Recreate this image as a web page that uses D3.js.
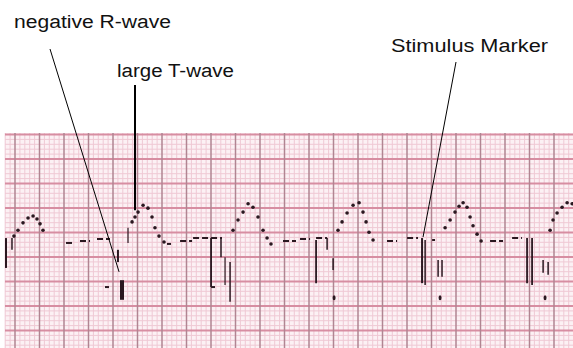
<!DOCTYPE html>
<html>
<head>
<meta charset="utf-8">
<script src="https://cdn.jsdelivr.net/npm/d3@7"></script>
<style>
  html, body { margin: 0; padding: 0; background: #ffffff; }
  svg { display: block; }
  text { font-family: "Liberation Sans", Arial, sans-serif; fill: #111; }
</style>
</head>
<body>
<svg id="chart" width="573" height="348"></svg>
<script>
// ---- Data (time in ms, amplitude in mV) ----
// Dotted T-waves, one array per beat
const tWaves = [
  [[73,0.10],[106,0.22],[147,0.37],[188,0.47],[229,0.51],[261,0.45],[286,0.35],[310,0.22]],
  [[1037,0.39],[1061,0.49],[1086,0.59],[1127,0.73],[1167,0.67],[1200,0.49],[1224,0.27],[1257,0.10],[1298,-0.02]],
  [[1861,0.22],[1902,0.43],[1943,0.59],[1984,0.76],[2024,0.69],[2065,0.49],[2106,0.22],[2139,0.06],[2171,-0.06]],
  [[2718,0.22],[2751,0.39],[2792,0.57],[2841,0.73],[2890,0.78],[2922,0.59],[2947,0.39],[2971,0.18],[3004,0.02]],
  [[3592,0.27],[3633,0.43],[3673,0.59],[3706,0.71],[3739,0.78],[3771,0.69],[3796,0.49],[3820,0.31],[3853,0.14],[3886,0.00]],
  [[4449,0.22],[4473,0.43],[4506,0.57],[4547,0.69],[4588,0.78],[4629,0.76]]
];
// Horizontal trace pieces: [start ms, end ms, mV]
const baselineDashes = [
  [498,547,-0.04],[612,694,0.00],[751,857,0.04],[816,849,-0.94],
  [1322,1355,-0.06],[1429,1527,0.00],[1535,1771,0.06],[1682,1714,-0.94],
  [2269,2375,0.00],[2408,2490,0.04],[2539,2629,0.06],
  [3118,3200,0.00],[3282,3371,0.06],[3486,3510,0.02],
  [3959,4065,0.00],[4139,4220,0.06]
];
// Vertical deflections: [ms, top mV, bottom mV, weight]
const spikes = [
  [8,0.06,-0.55,2],[57,0.06,-0.18,1.5],
  [922,-0.18,-0.43,2],[955,-0.80,-1.20,4],[1004,0.27,-0.04,1.2],
  [1682,0.06,-0.94,1.8],[1763,0.06,-0.33,1.5],[1796,-0.33,-0.90,1.2],[1837,-0.43,-1.24,1.5],
  [2539,0.02,-0.86,1.8],[2629,0.06,-0.18,1.5],[2678,-0.35,-0.59,1.5],
  [3404,0.06,-0.86,2],[3429,0.02,-0.90,1.5],[3535,-0.39,-0.73,1.5],[3567,-0.39,-0.73,1.5],
  [4261,0.06,-0.86,1.8],[4302,0.06,-0.90,1.8],[4392,-0.39,-0.65,1.5],[4433,-0.43,-0.69,1.5]
];
// Isolated dots below the complexes
const markerDots = [[2686,-1.16],[3551,-1.16],[4408,-1.16]];

// Annotation labels and the trace point each one points to
const labels = ["negative R-wave", "large T-wave", "Stimulus Marker"];
const labelTargets = [[931,-0.63],[1061,0.63],[3412,0.08]];

// ---- Layout ----
const paper = {x0: 5, y0: 133, x1: 573, y1: 348};
const pxPerMm = 4.9;
const x = d3.scaleLinear().domain([0, 4636]).range([5, 573]);       // 25 mm/s
const y = d3.scaleLinear().domain([0, 1]).range([241, 192]);        // 10 mm/mV
const xMm = d3.scaleLinear().domain([0, 1]).range([15, 15 + pxPerMm]);
const yMm = d3.scaleLinear().domain([0, 1]).range([159, 159 + pxPerMm]);

const svg = d3.select("#chart");

// ---- Grid paper ----
const g = svg.append("g");
g.append("rect").attr("x", paper.x0).attr("y", paper.y0)
  .attr("width", paper.x1 - paper.x0).attr("height", paper.y1 - paper.y0)
  .attr("fill", "#fcf1f4");

const mmX = d3.range(-2, 115).filter(m => xMm(m) >= paper.x0 && xMm(m) <= paper.x1);
const mmY = d3.range(-6, 40).filter(m => yMm(m) >= paper.y0 && yMm(m) <= paper.y1);

g.selectAll(".minx").data(mmX.filter(m => m % 5 !== 0)).join("line")
  .attr("x1", d => xMm(d)).attr("x2", d => xMm(d))
  .attr("y1", paper.y0).attr("y2", paper.y1)
  .attr("stroke", "#efc9d4").attr("stroke-width", 1);
g.selectAll(".miny").data(mmY.filter(m => m % 5 !== 0)).join("line")
  .attr("y1", d => yMm(d)).attr("y2", d => yMm(d))
  .attr("x1", paper.x0).attr("x2", paper.x1)
  .attr("stroke", "#efc9d4").attr("stroke-width", 1);
g.selectAll(".majy").data(mmY.filter(m => m % 5 === 0)).join("line")
  .attr("y1", d => yMm(d)).attr("y2", d => yMm(d))
  .attr("x1", paper.x0).attr("x2", paper.x1)
  .attr("stroke", "#d78ea2").attr("stroke-width", 2);
g.selectAll(".majx").data(mmX.filter(m => m % 5 === 0)).join("line")
  .attr("x1", d => xMm(d)).attr("x2", d => xMm(d))
  .attr("y1", paper.y0).attr("y2", paper.y1)
  .attr("stroke", "#b18592").attr("stroke-width", 1.5);

// ---- ECG trace ----
const ink = "#2a1820";
const tr = svg.append("g");
tr.selectAll(".dash").data(baselineDashes).join("line")
  .attr("x1", d => x(d[0])).attr("x2", d => x(d[1]))
  .attr("y1", d => y(d[2])).attr("y2", d => y(d[2]))
  .attr("stroke", ink).attr("stroke-width", 2).attr("stroke-dasharray", "6,3");
tr.selectAll(".spike").data(spikes).join("line")
  .attr("x1", d => x(d[0])).attr("x2", d => x(d[0]))
  .attr("y1", d => y(d[1])).attr("y2", d => y(d[2]))
  .attr("stroke", ink).attr("stroke-width", d => d[3]);
tr.selectAll(".tw").data(tWaves.flat()).join("ellipse")
  .attr("cx", d => x(d[0])).attr("cy", d => y(d[1]))
  .attr("rx", 1.8).attr("ry", 1.8).attr("fill", ink);
tr.selectAll(".md").data(markerDots).join("ellipse")
  .attr("cx", d => x(d[0])).attr("cy", d => y(d[1]))
  .attr("rx", 1.5).attr("ry", 2.5).attr("fill", ink);

// ---- Annotations ----
const labelPos = [{x: 14, y: 28, w: 157, lx: 50, ly: 49, lw: 1},
                  {x: 117, y: 77, w: 117, lx: 135, ly: 85, lw: 2},
                  {x: 391, y: 52, w: 157, lx: 456, ly: 62, lw: 1}];
const an = svg.append("g");
labels.forEach((lab, i) => {
  const p = labelPos[i];
  an.append("text").attr("x", p.x).attr("y", p.y)
    .attr("font-size", 18).attr("textLength", p.w)
    .attr("lengthAdjust", "spacingAndGlyphs").text(lab);
  an.append("line").attr("x1", p.lx).attr("y1", p.ly)
    .attr("x2", x(labelTargets[i][0])).attr("y2", y(labelTargets[i][1]))
    .attr("stroke", "#000").attr("stroke-width", p.lw);
});
</script>
</body>
</html>
